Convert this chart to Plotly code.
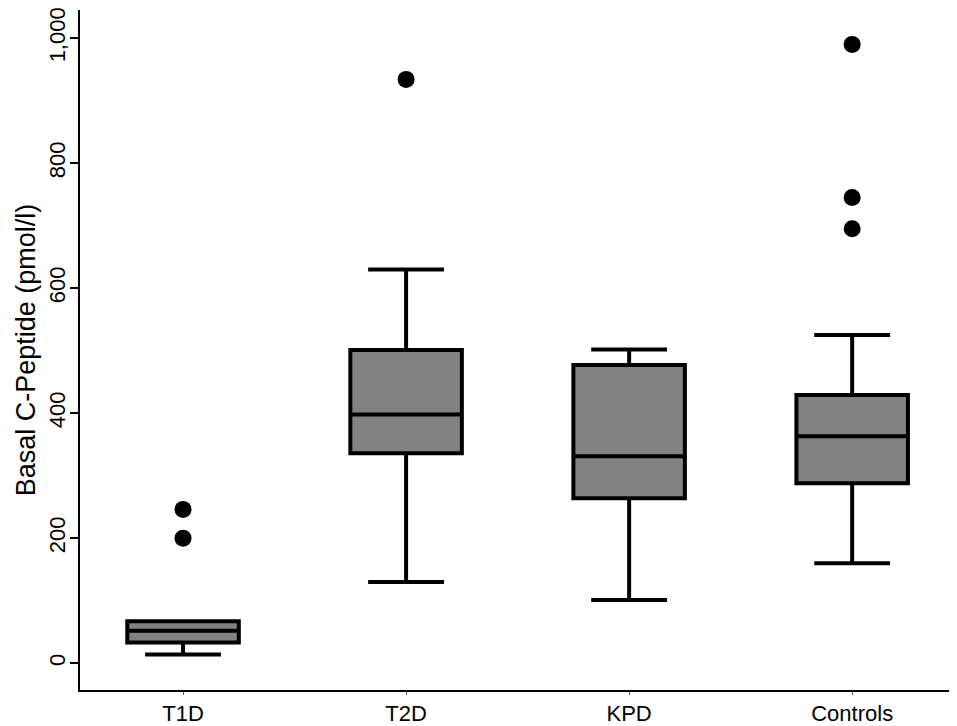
import plotly.graph_objects as go

# Basal C-peptide per group (pmol/l)
groups = ["T1D", "T2D", "KPD", "Controls"]
lower_whisker = [14, 130, 101, 160]
q1 = [33, 336, 264, 288]
median = [52, 398, 331, 363]
q3 = [67, 501, 477, 429]
upper_whisker = [67, 630, 502, 525]
outliers = {
    "T1D": [246, 200],
    "T2D": [934],
    "KPD": [],
    "Controls": [990, 745, 695],
}

y_ticks = [0, 200, 400, 600, 800, 1000]

fig = go.Figure()

for i, g in enumerate(groups):
    fig.add_trace(go.Box(
        x=[g],
        q1=[q1[i]], median=[median[i]], q3=[q3[i]],
        lowerfence=[lower_whisker[i]], upperfence=[upper_whisker[i]],
        width=0.5, whiskerwidth=0.68,
        fillcolor="#828282",
        line=dict(color="black", width=4),
        boxpoints=False, hoverinfo="skip",
    ))
    if outliers[g]:
        fig.add_trace(go.Scatter(
            x=[g] * len(outliers[g]), y=outliers[g], mode="markers",
            marker=dict(color="black", size=17),
        ))

# page body has an 8px margin, so the figure is a bit smaller than the window
fig.update_layout(
    width=949, height=718,
    paper_bgcolor="white", plot_bgcolor="white",
    margin=dict(l=72, r=0, t=2, b=36),
    showlegend=False,
    font=dict(family="Liberation Sans, Arial", size=21, color="black"),
)

fig.update_xaxes(
    type="category", range=[-0.462, 3.47], automargin=False,
    showline=True, linecolor="black", linewidth=2,
    ticks="outside", ticklen=3, tickcolor="#555", tickwidth=1,
    showgrid=False, zeroline=False,
    tickfont=dict(size=22), ticklabeloverflow="allow",
)
fig.update_yaxes(
    range=[-43, 1045], automargin=False,
    tickvals=y_ticks, tickformat=",d", tickangle=-90,
    showline=True, linecolor="black", linewidth=2,
    ticks="outside", ticklen=8, tickcolor="black", tickwidth=2,
    showgrid=False, zeroline=False,
    ticklabelstandoff=-4,
    title=dict(text="Basal C-Peptide (pmol/l)", font=dict(size=27), standoff=2),
    tickfont=dict(size=22), ticklabeloverflow="allow",
)

fig.write_html("out.html")
